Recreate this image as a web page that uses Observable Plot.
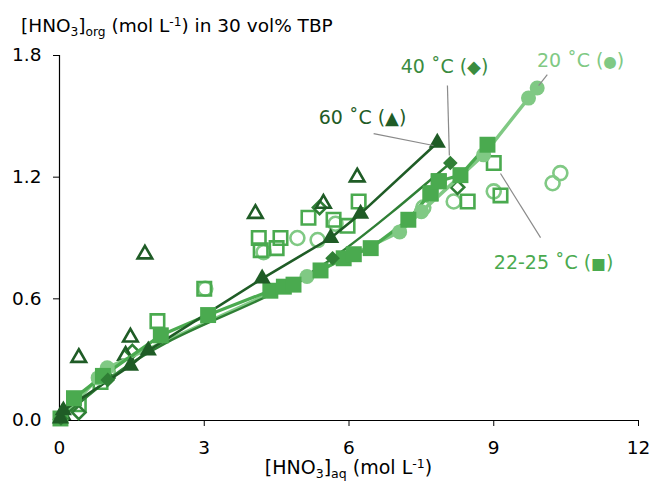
<!DOCTYPE html>
<html>
<head>
<meta charset="utf-8">
<script src="https://cdn.jsdelivr.net/npm/d3@7"></script>
<script src="https://cdn.jsdelivr.net/npm/@observablehq/plot@0.6"></script>
<style>
  body { margin: 0; background: #fff; font-family: "DejaVu Sans", sans-serif; }
  #wrap { position: relative; width: 649px; height: 491px; }
  .ttl { position: absolute; color: #000; white-space: nowrap; line-height: 1; }
  .ttl sub, .ttl sup { font-size: 0.66em; vertical-align: baseline; position: relative; }
  .ttl sub { top: 0.32em; }
  .ttl sup { top: -0.5em; }
  #yt { left: 21px; top: 17px; font-size: 18.5px; }
  #xt { left: 0; width: 697px; text-align: center; top: 458px; font-size: 19px; }
</style>
</head>
<body>
<div id="wrap">
  <div class="ttl" id="yt">[HNO<sub>3</sub>]<sub>org</sub> (mol L<sup>-1</sup>) in 30 vol% TBP</div>
  <div class="ttl" id="xt">[HNO<sub>3</sub>]<sub>aq</sub> (mol L<sup>-1</sup>)</div>
</div>
<script>
// Tick values
const xTicks = [0, 3, 6, 9, 12];
const yTicks = [0, 0.6, 1.2, 1.8];

// 60 °C – measured (filled, joined) and literature (open)
const x60 = [0.02, 0.08, 1.47, 1.84, 4.2, 5.62, 6.24, 7.83];
const y60 = [0.01, 0.05, 0.27, 0.345, 0.70, 0.90, 1.02, 1.37];
const x60o = [0.05, 0.4, 1.37, 1.47, 1.77, 4.06, 5.47, 6.17];
const y60o = [0.03, 0.31, 0.32, 0.41, 0.82, 1.02, 1.07, 1.20];

// 40 °C
const x40 = [0.03, 1.0, 5.66, 8.1];
const y40 = [0.01, 0.20, 0.80, 1.27];
const x40o = [0.4, 1.0, 1.51, 5.39, 8.25];
const y40o = [0.04, 0.21, 0.34, 1.05, 1.15];

// 22-25 °C
const x22 = [0.02, 0.3, 0.9, 2.1, 3.08, 4.37, 4.65, 4.85, 5.41, 5.89, 6.1, 6.45, 7.23, 7.69, 7.86, 8.31, 8.87];
const y22 = [0.01, 0.11, 0.22, 0.42, 0.52, 0.64, 0.66, 0.67, 0.74, 0.80, 0.82, 0.85, 0.99, 1.12, 1.18, 1.21, 1.36];
const x22o = [0.4, 0.85, 2.03, 3.0, 4.13, 4.17, 4.5, 4.58, 5.16, 5.68, 5.97, 6.2, 7.69, 7.86, 8.46, 9.0, 9.14];
const y22o = [0.08, 0.19, 0.49, 0.65, 0.90, 0.84, 0.85, 0.90, 1.00, 0.99, 0.96, 1.08, 1.12, 1.18, 1.08, 1.27, 1.11];

// 20 °C
const x20 = [0.02, 0.8, 0.99, 5.13, 7.05, 7.5, 8.79, 9.72, 9.9];
const y20 = [0.01, 0.21, 0.26, 0.71, 0.93, 1.03, 1.31, 1.59, 1.64];
const x20o = [1.0, 3.02, 4.23, 4.93, 5.35, 5.72, 7.54, 8.17, 9.0, 10.22, 10.38];
const y20o = [0.24, 0.65, 0.83, 0.90, 0.89, 0.97, 1.05, 1.08, 1.13, 1.17, 1.22];

// Series labels with their leader lines (data units)
const labelText = ["60 ˚C (▲)", "40 ˚C (◆)", "20 ˚C (●)", "22-25 ˚C (■)"];
const labelX = [6.28, 7.98, 10.8, 10.24];
const labelY = [1.494, 1.746, 1.775, 0.779];
const leadX1 = [6.51, 8.04, 10.11, 9.14];
const leadY1 = [1.415, 1.652, 1.706, 1.218];
const leadX2 = [7.75, 8.08, 9.93, 9.97];
const leadY2 = [1.356, 1.307, 1.652, 0.902];

const c60 = "#1f5c26", c40 = "#2f7f35", c22 = "#4aaa4f", c20 = "#80c984";
const labelColors = [c60, "#3a8c3f", c20, c22];

const pts = (xs, ys) => xs.map((x, i) => ({x, y: ys[i]}));
const s60 = pts(x60, y60), s60o = pts(x60o, y60o);
const s40 = pts(x40, y40), s40o = pts(x40o, y40o);
const s22 = pts(x22, y22), s22o = pts(x22o, y22o);
const s20 = pts(x20, y20), s20o = pts(x20o, y20o);
const labels = labelText.map((t, i) => ({t, x: labelX[i], y: labelY[i], c: labelColors[i]}));
const leaders = leadX1.map((x1, i) => ({x1, y1: leadY1[i], x2: leadX2[i], y2: leadY2[i]}));

const chart = Plot.plot({
  width: 649,
  height: 491,
  marginLeft: 59,
  marginRight: 11,
  marginTop: 55,
  marginBottom: 71,
  x: {domain: [0, 12]},
  y: {domain: [0, 1.8]},
  style: {fontFamily: "'DejaVu Sans', sans-serif", fontSize: "18.5px", color: "#000", background: "transparent", overflow: "visible"},
  marks: [
    Plot.axisX({ticks: xTicks, tickSize: 6, tickPadding: 14, label: null, fontSize: 18.5}),
    Plot.axisY({ticks: yTicks, tickSize: 6, tickPadding: 12, tickFormat: d3.format(".1f"), label: null, fontSize: 18.5}),
    Plot.ruleX([0], {stroke: "#000", strokeWidth: 1.2}),
    Plot.ruleY([0], {stroke: "#000", strokeWidth: 1.2}),

    // open (literature) markers
    Plot.dot(s20o, {x: "x", y: "y", r: 7, stroke: c20, strokeWidth: 2.6, fill: "none"}),
    Plot.dot(s22o, {x: "x", y: "y", symbol: "square", r: 7.6, stroke: c22, strokeWidth: 2.6, fill: "none"}),
    Plot.dot(s40o, {x: "x", y: "y", symbol: "diamond2", r: 6, stroke: c40, strokeWidth: 2.6, fill: "none"}),
    Plot.dot(s60o, {x: "x", y: "y", symbol: "triangle", r: 5.4, stroke: c60, strokeWidth: 2.6, fill: "none"}),

    // fitted lines
    Plot.line(s20, {x: "x", y: "y", stroke: c20, strokeWidth: 3.5}),
    Plot.line(s22, {x: "x", y: "y", stroke: c22, strokeWidth: 3.2}),
    Plot.line(s40, {x: "x", y: "y", stroke: c40, strokeWidth: 2.4, curve: "monotone-x"}),
    Plot.line(s60, {x: "x", y: "y", stroke: c60, strokeWidth: 2.6}),

    // measured (filled) markers
    Plot.dot(s20, {x: "x", y: "y", r: 7.5, fill: c20}),
    Plot.dot(s22, {x: "x", y: "y", symbol: "square", r: 9, fill: c22}),
    Plot.dot(s40, {x: "x", y: "y", symbol: "diamond2", r: 6.6, fill: c40}),
    Plot.dot(s60, {x: "x", y: "y", symbol: "triangle", r: 6.4, fill: c60}),

    // series labels
    Plot.link(leaders, {x1: "x1", y1: "y1", x2: "x2", y2: "y2", stroke: "#8a8a8a", strokeWidth: 1.2}),
    Plot.text(labels, {x: "x", y: "y", text: "t", fill: "c", fontSize: 19, textAnchor: "middle", className: "series-label"})
  ]
});

// size the marker glyph inside each series label
const glyphSize = {"▲": 18, "◆": 18, "●": 15.5, "■": 15.5};
chart.querySelectorAll(".series-label text").forEach((node) => {
  const s = node.textContent;
  const m = s.match(/^(.*\()(.)(\))$/);
  if (!m) return;
  node.textContent = "";
  const ns = "http://www.w3.org/2000/svg";
  const a = document.createElementNS(ns, "tspan"); a.textContent = m[1];
  const g = document.createElementNS(ns, "tspan"); g.textContent = m[2];
  g.setAttribute("font-size", glyphSize[m[2]] || 16);
  const b = document.createElementNS(ns, "tspan"); b.textContent = m[3];
  node.append(a, g, b);
});

chart.style.position = "absolute";
chart.style.left = "0";
chart.style.top = "0";
document.getElementById("wrap").prepend(chart);
</script>
</body>
</html>
